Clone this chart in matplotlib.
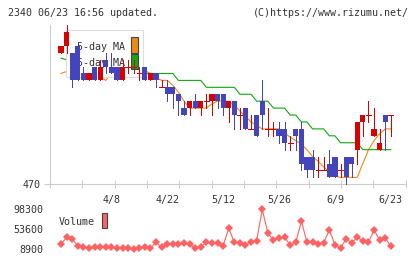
import matplotlib
matplotlib.use("Agg")
import matplotlib.pyplot as plt
from matplotlib.patches import Rectangle

# daily prices, 60 sessions (yen)
opens  = [489, 490, 489, 490, 486, 485, 487, 485, 488, 487,
          487, 485, 487, 487, 486, 487, 485, 486, 484, 484,
          484, 483, 481, 481, 482, 481, 482, 482, 483, 483,
          481, 482, 480, 481, 478, 480, 482, 478, 478, 478,
          478, 476, 478, 478, 474, 474, 472, 472, 473, 474,
          472, 474, 474, 475, 479, 480, 477, 475, 480, 480]
highs  = [490, 493, 489, 490, 487, 486, 487, 488, 489, 489,
          487, 488, 488, 488, 487, 487, 486, 486, 485, 485,
          484, 483, 482, 482, 483, 482, 483, 483, 483, 483,
          482, 482, 481, 481, 480, 480, 485, 481, 479, 479,
          479, 477, 478, 479, 474, 475, 474, 474, 475, 474,
          473, 474, 474, 479, 480, 482, 481, 478, 480, 480]
lows   = [489, 489, 484, 485, 485, 485, 485, 485, 486, 486,
          485, 485, 486, 486, 485, 485, 485, 484, 484, 482,
          481, 480, 480, 480, 481, 480, 481, 480, 481, 480,
          479, 478, 478, 478, 478, 477, 478, 477, 477, 476,
          475, 475, 475, 472, 471, 471, 471, 472, 471, 471,
          471, 470, 471, 473, 477, 479, 477, 475, 475, 477]
closes = [490, 492, 485, 485, 485, 486, 485, 487, 487, 486,
          485, 487, 487, 487, 486, 485, 486, 485, 484, 483,
          483, 482, 480, 482, 481, 482, 482, 483, 482, 481,
          482, 480, 480, 478, 478, 477, 480, 478, 478, 477,
          476, 476, 477, 473, 472, 472, 472, 472, 471, 471,
          472, 471, 473, 479, 480, 480, 478, 476, 479, 480]

# moving averages
ma5  = [486, 486.3, 487, 487.5, 487, 486.5, 486, 485.5, 485, 486,
        486.2, 486.3, 486.3, 486.4, 486.4, 486.4, 486, 485.4, 485, 485,
        484.3, 483.3, 482, 481, 481, 481, 481, 481.6, 482, 482,
        482, 481.4, 480.6, 479.8, 479, 478.5, 478, 478, 478, 478,
        477.4, 476.8, 476.3, 475.8, 475, 474, 473.3, 472.5, 471.8, 471.2,
        471, 471, 471, 471, 473, 475, 476.3, 477.3, 478, 478]
ma25 = [488.2, 488, 488, 487.5, 487.5, 487, 487, 487, 486.5, 486.5,
        486.5, 486.5, 486, 486, 486, 486, 486, 486, 486, 486,
        486, 485, 485, 485, 485, 485, 484, 484, 484, 484,
        484, 484, 483, 483, 483, 482, 482, 482, 481, 481,
        481, 480, 480, 479, 479, 478, 478, 478, 477, 477,
        476, 476, 476, 476, 475, 475, 475, 475, 475, 475]

volume = [20000, 34800, 31400, 15700, 14100, 10500, 12700, 14100, 14100, 12700,
          11800, 10500, 10500, 8900, 11800, 12700, 10500, 24000, 12700, 20200,
          19500, 19500, 21700, 20200, 10500, 14100, 24000, 23100, 21700, 15700,
          55500, 24000, 23100, 17900, 24000, 27600, 98300, 44300, 29200, 33000,
          35200, 17900, 24000, 72000, 24000, 24000, 20200, 23100, 51700, 17900,
          11800, 30700, 23100, 35200, 27600, 24000, 51700, 29200, 33000, 15700]

date_pos = [9, 19, 29, 39, 49, 59]
date_labels = ["4/8", "4/22", "5/12", "5/26", "6/9", "6/23"]
vol_ticks = [8900, 53600, 98300]

RED = "#d80000"
BLUE = "#4444bb"
ORANGE = "#ee8a10"
GREEN = "#10a810"
VOLC = "#ff6262"
GRID = "#cccccc"
TXT = "#333333"
FONT = "DejaVu Sans Mono"
FS = 7.2
PX = 0.72  # one pixel in points

plt.rcParams["font.family"] = FONT
plt.rcParams["font.size"] = FS

W, H = 420, 259
fig = plt.figure(figsize=(W / 100, H / 100), dpi=100)


def fx(x):
    return x / W


def fy(y):
    return 1 - y / H


# price panel
ax = fig.add_axes([fx(50), fy(184.3), fx(405.7) - fx(50), fy(25) - fy(184.3)])
xs = list(range(len(closes)))
ax.set_xlim(-1.97, 61.66)
ax.set_ylim(470, 493)

ax.plot(xs, ma5, color=ORANGE, lw=0.8, zorder=1)
ax.plot(xs, ma25, color=GREEN, lw=0.8, zorder=1)

bw = 0.93
for i in xs:
    o, h, l, c = opens[i], highs[i], lows[i], closes[i]
    col = RED if c >= o else BLUE
    ax.vlines(i, l, h, color=col, lw=PX, zorder=3, clip_on=False, antialiased=False)
    if o == c:
        ax.hlines(o, i - bw / 2, i + bw / 2, color=col, lw=PX, zorder=3,
                  antialiased=False)
    else:
        ax.add_patch(Rectangle((i - bw / 2, min(o, c)), bw, abs(c - o),
                               facecolor=col, edgecolor="none", zorder=3,
                               antialiased=False))

# legend sits above the MA lines but under the candles
ax.add_patch(Rectangle((fx(65.7), fy(77)), fx(143) - fx(65.7), fy(30) - fy(77),
                       transform=fig.transFigure, facecolor="white",
                       edgecolor="#dddddd", lw=0.8, zorder=2, clip_on=False))
ax.text(fx(125), fy(46.5), "5-day MA", transform=fig.transFigure, ha="right",
        va="center", color=TXT, zorder=2.1, fontsize=FS)
ax.text(fx(125), fy(63), "25-day MA", transform=fig.transFigure, ha="right",
        va="center", color=TXT, zorder=2.1, fontsize=FS)
for y0, y1, col in [(37.3, 52.7, ORANGE), (54.3, 69.3, GREEN)]:
    ax.add_patch(Rectangle((fx(131), fy(y1)), fx(137.7) - fx(131), fy(y0) - fy(y1),
                           transform=fig.transFigure, facecolor=col,
                           edgecolor="#444444", lw=0.8, zorder=2.1, clip_on=False))

for s in ["top", "right"]:
    ax.spines[s].set_visible(False)
for s in ["left", "bottom"]:
    ax.spines[s].set_color(GRID)
    ax.spines[s].set_linewidth(0.8)
ax.set_yticks([470])
ax.set_yticklabels(["470"])
ax.tick_params(axis="y", length=4.5, width=0.8, color=GRID, pad=2, labelcolor=TXT)
ax.set_xticks(date_pos)
ax.set_xticklabels(date_labels)
ax.tick_params(axis="x", which="major", length=0, pad=7.5, labelcolor=TXT)
lo, hi = ax.get_xlim()
ax.set_xticks([lo + k * (hi - lo) / 11 for k in range(12)], minor=True)
ax.tick_params(axis="x", which="minor", direction="inout", length=6,
               width=0.8, color=GRID)

# volume panel
axv = fig.add_axes([fx(50), fy(253), fx(405.7) - fx(50), fy(205) - fy(253)])
axv.plot(xs, volume, color=VOLC, lw=0.8, marker="D", ms=3.8, mew=0)
axv.set_xlim(-1.97, 61.66)
axv.set_ylim(-108, 107984)
for s in axv.spines.values():
    s.set_visible(False)
axv.set_xticks([])
axv.set_yticks(vol_ticks)
axv.set_yticklabels([str(v) for v in vol_ticks])
axv.tick_params(axis="y", length=0, pad=4.5, labelcolor=TXT)
axv.set_facecolor("none")

fig.text(fx(59), fy(221.7), "Volume", ha="left", va="center", color=TXT, fontsize=FS)
fig.patches.append(Rectangle((fx(101.7), fy(228)), fx(107.3) - fx(101.7), fy(213) - fy(228),
                             transform=fig.transFigure, facecolor=VOLC,
                             edgecolor="#444444", lw=0.8))

# header
fig.text(fx(8), fy(12.7), "2340 06/23 16:56 updated.", ha="left", va="center",
         color=TXT, fontsize=FS)
fig.text(fx(409), fy(12.7), "(C)https://www.rizumu.net/", ha="right", va="center",
         color=TXT, fontsize=FS)

fig.savefig("out.png", dpi=100)
